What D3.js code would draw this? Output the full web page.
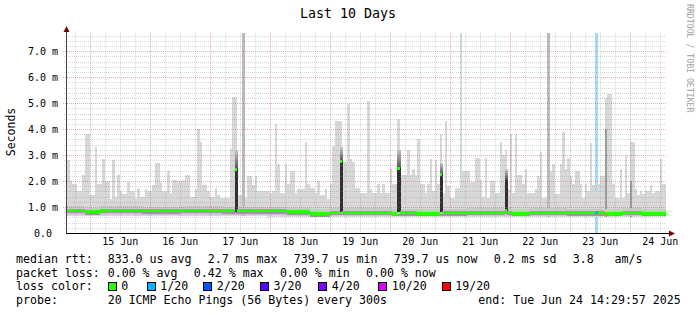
<!DOCTYPE html>
<html>
<head>
<meta charset="utf-8">
<script src="https://cdn.jsdelivr.net/npm/d3@7"></script>
<style>
body { margin: 0; background: #fff; }
svg text { font-family: "DejaVu Sans Mono", monospace; white-space: pre; }
</style>
</head>
<body>
<div id="chart"></div>
<script>
// time window (end time from the legend), hourly bins start at 15:00 on Jun 14
const endTime = new Date(Date.UTC(2025, 5, 24, 14, 29, 57));
const startTime = new Date(endTime.getTime() - 10 * 864e5);
const firstBin = Date.UTC(2025, 5, 14, 15);

const yTicks = [0, 1, 2, 3, 4, 5, 6, 7];
const dayLabels = ["15 Jun", "16 Jun", "17 Jun", "18 Jun", "19 Jun", "20 Jun", "21 Jun", "22 Jun", "23 Jun", "24 Jun"];

// [hour since first bin, ms] steps, value holds until next step
const smokeMax = [
  [0, 2.8], [1, 2.0], [2, 1.9], [4, 1.6], [6, 2.25], [7, 3.8], [9, 1.45], [11, 3.3], [12, 1.9], [14, 2.85],
  [15, 2.0], [17, 1.3], [18, 2.8], [19, 1.4], [20, 2.25], [21, 1.6], [22, 1.5], [24, 1.95], [25, 1.6], [27, 1.3],
  [28, 1.7], [29, 1.4], [31, 1.7], [32, 1.6], [34, 1.85], [35, 2.7], [37, 1.95], [38, 1.6],
  [40, 2.4], [41, 1.55], [42, 2.05], [44, 2.0], [46, 2.05], [47, 2.25], [49, 1.4], [51, 1.7], [52, 4.0], [53, 3.5],
  [54, 1.85], [56, 1.6], [57, 1.4], [59, 1.75], [60, 1.45], [61, 1.35], [65, 3.25], [66, 5.25], [68, 1.45], [70, 7.7],
  [71, 1.35], [72, 2.2], [74, 1.85], [75, 2.2], [76, 1.6],
  [80, 1.6], [81, 1.55], [82, 1.6], [83, 4.2], [84, 2.65], [85, 1.55], [87, 2.65], [88, 1.9], [89, 2.4], [91, 1.55],
  [92, 1.7], [95, 3.5], [96, 1.9], [97, 1.75], [99, 1.55], [100, 2.0], [101, 1.45], [103, 1.7], [104, 1.3], [105, 1.9],
  [106, 3.35], [107, 4.3], [110, 2.75], [112, 4.95], [113, 2.85], [114, 2.75], [115, 1.75], [117, 1.55],
  [120, 5.1], [121, 1.7], [122, 1.55], [124, 1.9], [125, 1.55], [126, 1.9], [127, 1.55], [129, 2.45], [130, 1.9], [132, 4.4],
  [133, 2.25], [136, 3.2], [137, 2.25], [138, 2.45], [139, 2.25], [140, 3.6], [141, 1.9], [143, 1.55], [144, 1.9], [145, 2.85],
  [146, 1.6], [147, 2.8], [148, 1.9], [149, 3.8], [150, 1.55], [151, 4.3], [152, 1.8], [153, 1.35], [155, 1.75], [157, 7.7],
  [158, 2.4],
  [160, 2.4], [161, 1.95], [163, 2.9], [165, 2.05], [166, 1.4], [167, 2.9], [168, 1.35], [169, 2.0], [171, 1.55], [173, 3.5],
  [174, 3.0], [175, 3.2], [176, 1.7], [177, 3.8], [178, 1.55], [179, 3.8], [180, 2.25], [182, 1.9], [183, 2.45], [184, 1.55],
  [187, 1.7], [188, 2.2], [189, 3.1], [190, 1.35], [192, 7.7], [193, 2.4], [194, 2.65], [195, 1.5], [197, 2.65], [198, 3.9],
  [199, 2.45],
  [200, 2.9], [201, 2.2], [202, 1.9], [203, 2.4], [205, 1.9], [206, 1.35], [207, 1.9], [208, 1.6], [209, 3.45], [210, 1.85],
  [211, 1.6], [212, 1.9], [213, 2.2], [215, 5.2], [216, 5.35], [218, 1.9], [219, 1.35], [221, 2.45], [222, 1.35], [223, 3.0],
  [224, 1.55], [225, 3.5], [227, 1.7], [228, 1.45], [229, 1.6], [230, 1.5], [231, 1.65], [232, 1.6], [233, 1.85], [234, 1.55],
  [235, 1.6], [237, 2.85], [238, 1.9]
];
const smokeMin = [[0, 0.66], [80, 0.63]];
const midSmoke = [[70, 7.7], [192, 7.7]];
const denseSmoke = [[215, 4.0], [225, 2.0]];
// [hour, top of dense dark smoke, top of fading smoke]
const darkSpikes = [[67, 2.45, 3.2], [109, 2.75, 3.3], [132, 2.5, 3.2], [149, 2.25, 2.7], [175, 2.05, 2.45]];
const median = [
  [0, 0.87], [7, 0.82], [13, 0.87], [30, 0.86], [45, 0.87], [58, 0.88], [62, 0.86], [67, 2.45], [68, 0.86],
  [88, 0.81], [97, 0.75], [105, 0.8], [109, 2.75], [110, 0.8], [120, 0.79], [130, 0.77], [132, 2.5], [133, 0.78],
  [140, 0.77], [149, 2.25], [150, 0.78], [160, 0.8], [170, 0.79], [175, 0.86], [176, 0.79], [178, 0.76], [185, 0.8],
  [200, 0.78], [215, 0.77], [222, 0.79], [230, 0.77]
];
const lossHours = [211];

const lossLevels = ["0", "1/20", "2/20", "3/20", "4/20", "10/20", "19/20"];
const lossColors = ["#26ff00", "#00b8ff", "#0059ff", "#5e00ff", "#7e00ff", "#dd00ff", "#ff0000"];
const rttLegend = ["median rtt:", "833.0 us avg", "2.7 ms max", "739.7 us min", "739.7 us now", "0.2 ms sd", "3.8   am/s"];
const lossLegend = ["packet loss:", "0.00 % avg", "0.42 % max", "0.00 % min", "0.00 % now"];
const probeLegend = ["probe:", "20 ICMP Echo Pings (56 Bytes) every 300s", "end: Tue Jun 24 14:29:57 2025"];

const W = 697, H = 315;
const plot = {left: 66, right: 666, top: 33, bottom: 233};

const svg = d3.select("#chart").append("svg")
    .attr("width", W)
    .attr("height", H)
    .style("display", "block");

svg.append("rect").attr("width", W).attr("height", H).attr("fill", "#fff");

const x = d3.scaleUtc().domain([startTime, endTime]).range([plot.left, plot.right]);
const y = d3.scaleLinear().domain([0, 7.7]).range([plot.bottom, plot.top]);

const lastH = (endTime.getTime() - firstBin) / 36e5;
const binTime = h => new Date(firstBin + h * 36e5);
const bx = h => x(binTime(Math.min(h, lastH)));

function segments(steps) {
    return steps.map((d, i) => ({
        h0: d[0],
        h1: i < steps.length - 1 ? steps[i + 1][0] : lastH,
        v: d[1]
    }));
}
function valueAt(steps, h) {
    let v = steps[0][1];
    steps.forEach(d => { if (d[0] <= h) v = d[1]; });
    return v;
}

const defs = svg.append("defs");
const grad = defs.append("linearGradient").attr("id", "fade").attr("x1", 0).attr("x2", 0).attr("y1", 1).attr("y2", 0);
grad.append("stop").attr("offset", 0).attr("stop-color", "#505050");
grad.append("stop").attr("offset", 1).attr("stop-color", "#c8c8c8");

const smoke = svg.append("g").attr("shape-rendering", "crispEdges");

// loss background
smoke.selectAll(".loss").data(lossHours).enter().append("rect")
    .attr("x", h => bx(h))
    .attr("width", h => bx(h + 1.4) - bx(h))
    .attr("y", plot.top)
    .attr("height", plot.bottom - plot.top)
    .attr("fill", "#a3ddf5");

// light smoke
smoke.selectAll(".smax").data(segments(smokeMax)).enter().append("rect")
    .attr("x", d => bx(d.h0))
    .attr("width", d => bx(d.h1) - bx(d.h0))
    .attr("y", d => y(d.v))
    .attr("height", d => y(valueAt(smokeMin, d.h0)) - y(d.v))
    .attr("fill", "#d8d8d8");

// denser smoke columns
smoke.selectAll(".smid").data(midSmoke).enter().append("rect")
    .attr("x", d => bx(d[0]))
    .attr("width", d => bx(d[0] + 1) - bx(d[0]))
    .attr("y", d => y(d[1]))
    .attr("height", d => y(valueAt(smokeMin, d[0])) - y(d[1]))
    .attr("fill", "#bababa");

smoke.selectAll(".sdense").data(denseSmoke).enter().append("rect")
    .attr("x", d => bx(d[0]))
    .attr("width", d => bx(d[0] + 1) - bx(d[0]))
    .attr("y", d => y(d[1]))
    .attr("height", d => y(valueAt(smokeMin, d[0])) - y(d[1]))
    .attr("fill", "#9c9c9c");

// band of dense smoke around the median
const baseMedian = median.filter(d => d[1] < 1.5);
const baseAt = d => d.v < 1.5 ? d.v : valueAt(baseMedian, d.h0);
smoke.selectAll(".band").data(segments(median)).enter().append("rect")
    .attr("x", d => bx(d.h0))
    .attr("width", d => bx(d.h1) - bx(d.h0))
    .attr("y", d => y(baseAt(d) + 0.16))
    .attr("height", d => y(valueAt(smokeMin, d.h0) + 0.03) - y(baseAt(d) + 0.16))
    .attr("fill", "#c9c9c9");

smoke.selectAll(".band2").data(segments(median)).enter().append("rect")
    .attr("x", d => bx(d.h0))
    .attr("width", d => bx(d.h1) - bx(d.h0))
    .attr("y", d => y(baseAt(d)) + 1)
    .attr("height", 2)
    .attr("fill", "#9a9a9a");

// dark spikes
smoke.selectAll(".fade").data(darkSpikes).enter().append("rect")
    .attr("x", d => bx(d[0]))
    .attr("width", d => bx(d[0] + 1.3) - bx(d[0]))
    .attr("y", d => y(d[2]))
    .attr("height", d => y(d[1]) - y(d[2]))
    .attr("fill", "url(#fade)");

smoke.selectAll(".spike").data(darkSpikes).enter().append("rect")
    .attr("x", d => bx(d[0]))
    .attr("width", d => bx(d[0] + 1.3) - bx(d[0]))
    .attr("y", d => y(d[1]))
    .attr("height", d => y(0.8) - y(d[1]))
    .attr("fill", "#2e2e2e");

// grid
const grid = svg.append("g").attr("shape-rendering", "crispEdges");
const minorX = d3.utcHour.every(6).range(startTime, endTime).filter(t => t.getUTCHours() !== 0);
const majorX = d3.utcDay.range(startTime, endTime);
const minorY = d3.range(1, 39).map(i => i / 5).filter(v => Math.abs(v - Math.round(v)) > 1e-6);
const majorY = yTicks.filter(v => v > 0);

grid.selectAll(".gx").data(minorX).enter().append("line")
    .attr("x1", d => Math.round(x(d)) + 0.5).attr("x2", d => Math.round(x(d)) + 0.5)
    .attr("y1", plot.top).attr("y2", plot.bottom + 2)
    .attr("stroke", "#909090").attr("stroke-opacity", 0.35).attr("stroke-dasharray", "1,1");
grid.selectAll(".gy").data(minorY).enter().append("line")
    .attr("x1", plot.left - 2).attr("x2", plot.right)
    .attr("y1", d => Math.round(y(d)) + 0.5).attr("y2", d => Math.round(y(d)) + 0.5)
    .attr("stroke", "#909090").attr("stroke-opacity", 0.35).attr("stroke-dasharray", "1,1");
grid.selectAll(".mx").data(majorX).enter().append("line")
    .attr("x1", d => Math.round(x(d)) + 0.5).attr("x2", d => Math.round(x(d)) + 0.5)
    .attr("y1", plot.top).attr("y2", plot.bottom + 3)
    .attr("stroke", "#e05050").attr("stroke-opacity", 0.45).attr("stroke-dasharray", "1,1");
grid.selectAll(".my").data(majorY).enter().append("line")
    .attr("x1", plot.left - 3).attr("x2", plot.right)
    .attr("y1", d => Math.round(y(d)) + 0.5).attr("y2", d => Math.round(y(d)) + 0.5)
    .attr("stroke", "#e05050").attr("stroke-opacity", 0.45).attr("stroke-dasharray", "1,1");

// median line drawn as thin bands
const med = svg.append("g").attr("shape-rendering", "crispEdges");
med.selectAll("rect").data(segments(median)).enter().append("rect")
    .attr("x", d => bx(d.h0))
    .attr("width", d => bx(d.h1) - bx(d.h0))
    .attr("y", d => y(d.v) - 1.5)
    .attr("height", 3)
    .attr("fill", lossColors[0]);
med.selectAll(".lm").data(lossHours).enter().append("rect")
    .attr("x", h => bx(h))
    .attr("width", h => bx(h + 1.4) - bx(h))
    .attr("y", h => y(valueAt(median, h)) - 1.5)
    .attr("height", 3)
    .attr("fill", lossColors[1]);

// axes
svg.append("line").attr("x1", plot.left + 0.5).attr("x2", plot.left + 0.5)
    .attr("y1", plot.bottom).attr("y2", 30).attr("stroke", "#444").attr("shape-rendering", "crispEdges");
svg.append("line").attr("x1", plot.left).attr("x2", 670)
    .attr("y1", plot.bottom + 0.5).attr("y2", plot.bottom + 0.5).attr("stroke", "#000").attr("shape-rendering", "crispEdges");
svg.append("path").attr("d", `M${plot.left + 0.5},26 L${plot.left - 2.5},32 L${plot.left + 3.5},32 Z`).attr("fill", "#800000");
svg.append("path").attr("d", `M675,${plot.bottom + 0.5} L669,${plot.bottom - 2.5} L669,${plot.bottom + 3.5} Z`).attr("fill", "#800000");

const noonTimes = majorX.map(d => new Date(d.getTime() + 12 * 36e5));
const xAxis = svg.append("g")
    .attr("transform", `translate(0,${plot.bottom})`)
    .call(d3.axisBottom(x).tickValues(noonTimes).tickSize(0).tickPadding(5)
        .tickFormat((d, i) => dayLabels[i]));
xAxis.select(".domain").remove();
xAxis.selectAll("text").attr("font-size", "10px").attr("font-family", "DejaVu Sans Mono").attr("fill", "#000");

const yAxis = svg.append("g")
    .attr("transform", `translate(${plot.left - 8},0)`)
    .call(d3.axisLeft(y).tickValues(yTicks).tickSize(0).tickPadding(0)
        .tickFormat(v => v === 0 ? "0.0 " : v.toFixed(1) + " m"));
yAxis.select(".domain").remove();
yAxis.selectAll("text").attr("font-size", "10px").attr("font-family", "DejaVu Sans Mono").attr("fill", "#000");

// titles
svg.append("text").attr("x", 348).attr("y", 18).attr("text-anchor", "middle")
    .attr("font-size", "13.3px").text("Last 10 Days");
svg.append("text").attr("transform", "translate(15,132) rotate(-90)").attr("text-anchor", "middle")
    .attr("font-size", "11.5px").text("Seconds");
svg.append("text").attr("transform", "translate(687,4) rotate(90)")
    .attr("font-size", "8.2px").attr("fill", "#a0a0a0").text("RRDTOOL / TOBI OETIKER");

// legend
const legend = svg.append("g").attr("font-size", "11.6px");
const rttX = [16, 107.7, 207.7, 293.7, 393.7, 493.7, 572.7];
const lossX = [16, 107.7, 193.8, 279.9, 366];
const probeX = [16, 107.7, 478.3];
legend.selectAll(".l1").data(rttLegend).enter().append("text")
    .attr("x", (d, i) => rttX[i]).attr("y", 263).text(d => d);
legend.selectAll(".l2").data(lossLegend).enter().append("text")
    .attr("x", (d, i) => lossX[i]).attr("y", 276.5).text(d => d);
legend.append("text").attr("x", 16).attr("y", 290).text("loss color:");
const swX = [107.7, 146.7, 203.3, 260, 318.3, 378.3, 441.7];
legend.selectAll(".sw").data(lossLevels).enter().append("rect")
    .attr("x", (d, i) => Math.round(swX[i]) + 0.5).attr("y", 282.5)
    .attr("width", 8).attr("height", 8)
    .attr("fill", (d, i) => lossColors[i]).attr("stroke", "#000").attr("shape-rendering", "crispEdges");
legend.selectAll(".swt").data(lossLevels).enter().append("text")
    .attr("x", (d, i) => swX[i] + 13.5).attr("y", 290).text(d => d);
legend.selectAll(".l4").data(probeLegend).enter().append("text")
    .attr("x", (d, i) => probeX[i]).attr("y", 304).text(d => d);
</script>
</body>
</html>
